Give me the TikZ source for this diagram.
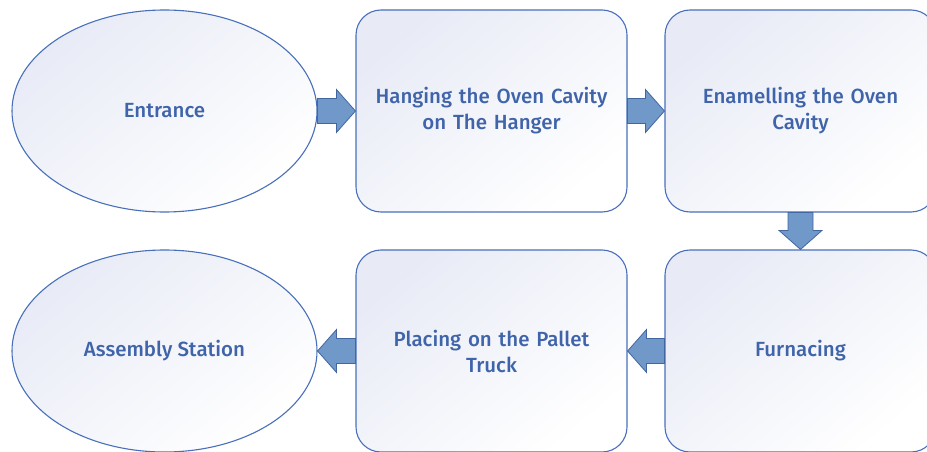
\documentclass[tikz,border=0pt]{standalone}
\usepackage{fontspec}
\setmainfont{Fira Sans}[UprightFont={* Medium}]
\usetikzlibrary{shapes.geometric,calc}

\definecolor{edge}{RGB}{72,112,186}
\definecolor{ink}{RGB}{63,100,170}
\definecolor{tint}{RGB}{232,235,246}
\definecolor{arrowfill}{RGB}{112,152,201}
\definecolor{arrowedge}{RGB}{66,103,160}

\tikzset{
  stage/.style={draw=edge, line width=1.1pt, shading=axis, top color=tint,
    bottom color=white, shading angle=40, text=ink, align=center,
    font=\fontsize{20.5}{26}\selectfont, inner sep=0pt},
  terminal/.style={stage, ellipse, minimum width=305pt, minimum height=202pt},
  stepbox/.style={stage, rounded corners=25pt, minimum width=271pt,
    minimum height=202pt, text width=262pt},
  blockarrow/.style={fill=arrowfill, draw=arrowedge, line width=0.8pt,
    line join=miter}
}

% thick block arrow from #1 to #2 (tip on #2)
\newcommand\flowarrow[2]{%
  \path (#1) coordinate (fa-s) (#2) coordinate (fa-t);
  \coordinate (fa-h) at ($(fa-t)!19pt!(fa-s)$);
  \draw[blockarrow]
    ($(fa-s)!12.5pt!90:(fa-t)$) -- ($(fa-h)!12.5pt!-90:(fa-s)$)
    -- ($(fa-h)!21.5pt!-90:(fa-s)$) -- (fa-t)
    -- ($(fa-h)!21.5pt!90:(fa-s)$) -- ($(fa-h)!12.5pt!90:(fa-s)$)
    -- ($(fa-s)!12.5pt!-90:(fa-t)$) -- cycle;
}

\begin{document}
\begin{tikzpicture}[x=1pt,y=-1pt]
  \useasboundingbox (0,0) rectangle (927,452);
  \clip (0,0) rectangle (927,452);

  \node[terminal] (entrance) at (164.5,111) {Entrance};
  \node[stepbox]  (hang)     at (491.5,111) {Hanging the Oven Cavity\\on The Hanger};
  \node[stepbox]  (enamel)   at (800.5,111) {Enamelling the Oven\\Cavity};
  \node[stepbox]  (furnace)  at (800.5,351) {Furnacing};
  \node[stepbox]  (pallet)   at (491.5,351) {Placing on the Pallet\\Truck};
  \node[terminal] (assembly) at (164.5,351) {Assembly Station};

  \flowarrow{entrance.east}{hang.west}
  \flowarrow{hang.east}{enamel.west}
  \flowarrow{enamel.south}{furnace.north}
  \flowarrow{furnace.west}{pallet.east}
  \flowarrow{pallet.west}{assembly.east}
\end{tikzpicture}
\end{document}
